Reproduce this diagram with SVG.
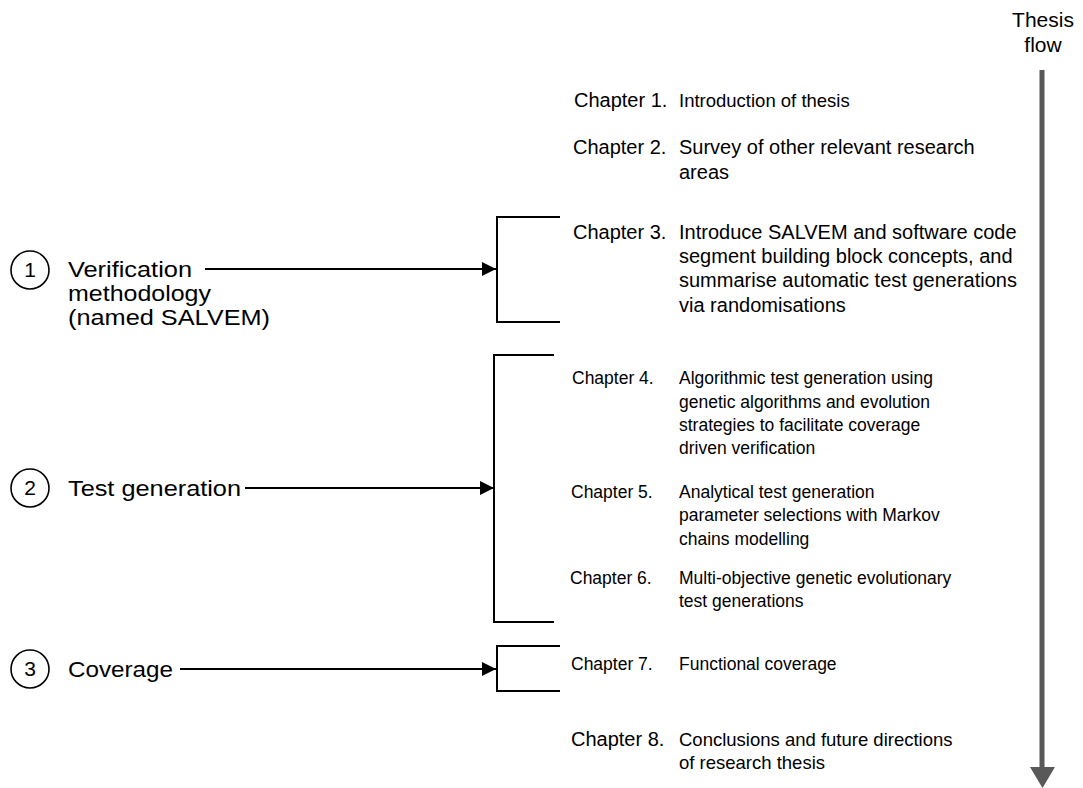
<svg xmlns="http://www.w3.org/2000/svg" width="1083" height="788" viewBox="0 0 1083 788">
  <defs>
    <style>
      .lbl { font-family: "Liberation Sans", Arial, sans-serif; font-size: 22px; fill: #000; }
      .num { font-family: "Liberation Sans", Arial, sans-serif; font-size: 21px; fill: #000; text-anchor: middle; }
      .ch { font-family: "Liberation Sans", Arial, sans-serif; font-size: 17.5px; fill: #000; }
      .big { font-size: 20px; }
      .mid { font-size: 18.5px; }
      .flow { font-family: "Liberation Sans", Arial, sans-serif; font-size: 21px; fill: #000; text-anchor: middle; }
      .ring { fill: none; stroke: #000; stroke-width: 1.6; }
      .bracket { fill: none; stroke: #000; stroke-width: 2; }
      .link { fill: none; stroke: #000; stroke-width: 2; }
    </style>
    <marker id="tip" viewBox="0 0 14 14" refX="14" refY="7" markerWidth="14" markerHeight="14" markerUnits="userSpaceOnUse" orient="auto">
      <path d="M0,0 L14,7 L0,14 Z" fill="#000"/>
    </marker>
  </defs>
  <rect width="1083" height="788" fill="#fff"/>

  <!-- thesis flow axis -->
  <g id="thesis-flow">
    <text class="flow" x="1043" y="27">Thesis</text>
    <text class="flow" x="1043" y="52">flow</text>
    <line x1="1042" y1="70" x2="1042" y2="768" stroke="#595959" stroke-width="5"/>
    <polygon points="1030,767 1055,767 1042.5,788" fill="#595959"/>
  </g>

  <!-- topics -->
  <g id="topic-1">
    <circle class="ring" cx="30" cy="270" r="19"/>
    <text class="num" x="30" y="277">1</text>
    <text class="lbl" x="68" y="277" textLength="124" lengthAdjust="spacingAndGlyphs">Verification</text>
    <text class="lbl" x="68" y="301" textLength="143" lengthAdjust="spacingAndGlyphs">methodology</text>
    <text class="lbl" x="68" y="325" textLength="202" lengthAdjust="spacingAndGlyphs">(named SALVEM)</text>
  </g>
  <g id="topic-2">
    <circle class="ring" cx="30" cy="488" r="19"/>
    <text class="num" x="30" y="495">2</text>
    <text class="lbl" x="68" y="496" textLength="173" lengthAdjust="spacingAndGlyphs">Test generation</text>
  </g>
  <g id="topic-3">
    <circle class="ring" cx="30" cy="669" r="19"/>
    <text class="num" x="30" y="676">3</text>
    <text class="lbl" x="68" y="677" textLength="105" lengthAdjust="spacingAndGlyphs">Coverage</text>
  </g>

  <!-- chapter groupings -->
  <g id="bracket-1"><path class="bracket" d="M560,217 H497 V322 H560"/></g>
  <g id="bracket-2"><path class="bracket" d="M554,355 H494 V622 H554"/></g>
  <g id="bracket-3"><path class="bracket" d="M560,646 H497 V691 H560"/></g>

  <!-- chapters -->
  <g id="chapter-1">
    <text class="ch big" x="574" y="107">Chapter 1.</text>
    <text class="ch mid" x="679" y="107">Introduction of thesis</text>
  </g>
  <g id="chapter-2">
    <text class="ch big" x="573" y="154">Chapter 2.</text>
    <text class="ch big" x="679" y="154">Survey of other relevant research</text>
    <text class="ch big" x="679" y="179">areas</text>
  </g>
  <g id="chapter-3">
    <text class="ch big" x="573" y="239">Chapter 3.</text>
    <text class="ch big" x="679" y="239">Introduce SALVEM and software code</text>
    <text class="ch big" x="679" y="263">segment building block concepts, and</text>
    <text class="ch big" x="679" y="287">summarise automatic test generations</text>
    <text class="ch big" x="679" y="312">via randomisations</text>
  </g>
  <g id="chapter-4">
    <text class="ch" x="572" y="384">Chapter 4.</text>
    <text class="ch" x="679" y="384">Algorithmic test generation using</text>
    <text class="ch" x="679" y="408">genetic algorithms and evolution</text>
    <text class="ch" x="679" y="431">strategies to facilitate coverage</text>
    <text class="ch" x="679" y="454">driven verification</text>
  </g>
  <g id="chapter-5">
    <text class="ch" x="571" y="498">Chapter 5.</text>
    <text class="ch" x="679" y="498">Analytical test generation</text>
    <text class="ch" x="679" y="521">parameter selections with Markov</text>
    <text class="ch" x="679" y="545">chains modelling</text>
  </g>
  <g id="chapter-6">
    <text class="ch" x="570" y="584">Chapter 6.</text>
    <text class="ch" x="679" y="584">Multi-objective genetic evolutionary</text>
    <text class="ch" x="679" y="607">test generations</text>
  </g>
  <g id="chapter-7">
    <text class="ch" x="571" y="670">Chapter 7.</text>
    <text class="ch" x="679" y="670">Functional coverage</text>
  </g>
  <g id="chapter-8">
    <text class="ch big" x="571" y="746">Chapter 8.</text>
    <text class="ch mid" x="679" y="746">Conclusions and future directions</text>
    <text class="ch mid" x="679" y="769">of research thesis</text>
  </g>

  <!-- connectors -->
  <g id="connectors">
    <line class="link" x1="205" y1="269" x2="496" y2="269" marker-end="url(#tip)"/>
    <line class="link" x1="245" y1="488" x2="494" y2="488" marker-end="url(#tip)"/>
    <line class="link" x1="180" y1="669" x2="496" y2="669" marker-end="url(#tip)"/>
  </g>
</svg>
